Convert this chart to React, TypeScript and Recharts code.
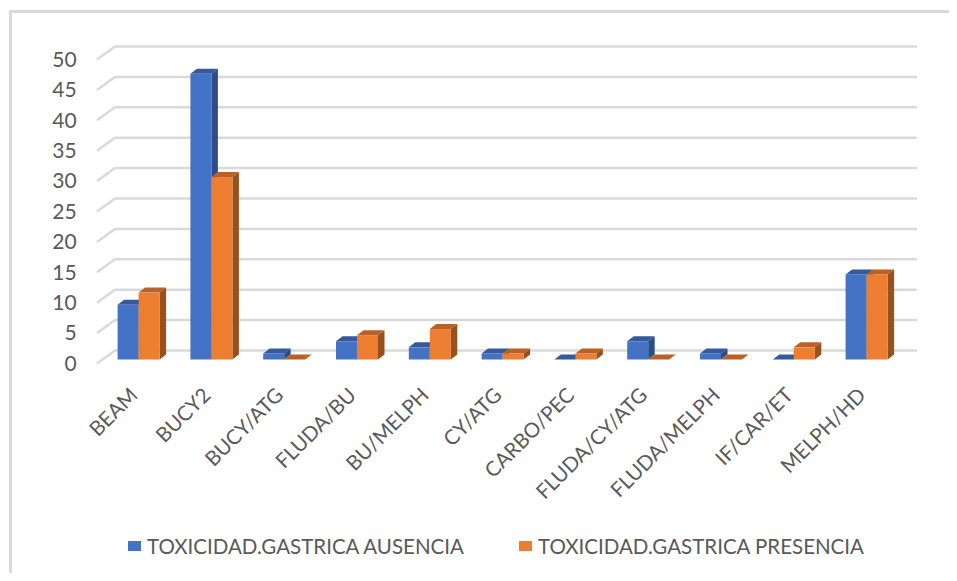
import React from 'react';
import { BarChart, Bar, XAxis, YAxis, CartesianGrid, Legend } from 'recharts';

const categories = ['BEAM', 'BUCY2', 'BUCY/ATG', 'FLUDA/BU', 'BU/MELPH', 'CY/ATG', 'CARBO/PEC', 'FLUDA/CY/ATG', 'FLUDA/MELPH', 'IF/CAR/ET', 'MELPH/HD'];
const ausencia = [9, 47, 1, 3, 2, 1, 0, 3, 1, 0, 14];
const presencia = [11, 30, 0, 4, 5, 1, 1, 0, 0, 2, 14];
const yTicks = [0, 5, 10, 15, 20, 25, 30, 35, 40, 45, 50];

const data = categories.map((name, i) => ({
  name,
  ausencia: ausencia[i],
  presencia: presencia[i],
}));

const FONT = 'Lato, "Open Sans", sans-serif';
const DEPTH_X = 6.5;
const DEPTH_Y = 5;

// front face, lit top and shaded side of a column
const Column3D = (props: any) => {
  const { x, y, width, height, front, top, side } = props;
  const r = x + width;
  const b = y + height;
  return (
    <g>
      <polygon points={`${x},${y} ${x + DEPTH_X},${y - DEPTH_Y} ${r + DEPTH_X},${y - DEPTH_Y} ${r},${y}`} fill={top} />
      {height > 0 && (
        <>
          <polygon points={`${r},${y} ${r + DEPTH_X},${y - DEPTH_Y} ${r + DEPTH_X},${b - DEPTH_Y} ${r},${b}`} fill={side} />
          <rect x={x} y={y} width={width} height={height} fill={front} />
        </>
      )}
    </g>
  );
};

// gridline on the back wall plus the slanted bit on the side wall
const WallLine = (props: any) => {
  const { y1 } = props;
  const backY = y1 - 9;
  return (
    <polyline
      key={`wall-${y1}`}
      points={`97,${y1 + 4} 115,${backY} 917,${backY}`}
      fill="none"
      stroke="#d9d9d9"
      strokeWidth={2.5}
    />
  );
};

const ValueTick = ({ x, y, payload }: any) => (
  <text x={x} y={y + 4} dy="0.35em" textAnchor="end" fontFamily={FONT} fontSize={21} fill="#595959">
    {payload.value}
  </text>
);

const CategoryTick = ({ x, y, payload }: any) => {
  const ty = y + 13;
  return (
    <text
      x={x}
      y={ty}
      textAnchor="end"
      transform={`rotate(-45, ${x}, ${ty})`}
      fontFamily={FONT}
      fontSize={20.5}
      fill="#595959"
    >
      {payload.value}
    </text>
  );
};

const LegendRow = ({ payload }: any) => (
  <div style={{ position: 'relative', height: 24 }}>
    {payload.map((item: any, i: number) => (
      <div
        key={item.value}
        style={{
          position: 'absolute',
          left: i === 0 ? 128 : 519,
          top: 0,
          display: 'flex',
          alignItems: 'center',
          whiteSpace: 'nowrap',
          fontFamily: FONT,
          fontSize: 20.5,
          lineHeight: '24px',
          color: '#595959',
        }}
      >
        <span style={{ width: 13, height: 10, background: item.color, marginRight: 6 }} />
        {item.value}
      </div>
    ))}
  </div>
);

export default function App() {
  return (
    <div style={{ position: 'relative', width: 957, height: 581, margin: -8, background: '#fff', overflow: 'hidden' }}>
      {/* frame shows only on the top and left */}
      <div
        style={{
          position: 'absolute',
          left: 9,
          top: 10,
          width: 960,
          height: 600,
          border: '3px solid #d9d9d9',
        }}
      />
      <BarChart
        width={957}
        height={581}
        data={data}
        barSize={21}
        barGap={0}
        margin={{ top: 55.5, right: 53.6, left: 42.6, bottom: 167.5 }}
        style={{ position: 'absolute', left: 0, top: 0 }}
      >
        <CartesianGrid vertical={false} horizontal={WallLine} />
        <XAxis
          dataKey="name"
          axisLine={false}
          tickLine={false}
          interval={0}
          tickMargin={18}
          tick={<CategoryTick />}
        />
        <YAxis
          width={60}
          domain={[0, 50]}
          ticks={yTicks}
          axisLine={false}
          tickLine={false}
          tickMargin={20}
          tick={<ValueTick />}
        />
        <Legend
          verticalAlign="bottom"
          content={<LegendRow />}
          wrapperStyle={{ left: 0, top: 534, width: 957 }}
        />
        <Bar
          dataKey="ausencia"
          name="TOXICIDAD.GASTRICA AUSENCIA"
          fill="#4472c4"
          isAnimationActive={false}
          shape={<Column3D front="#4472c4" top="#35599b" side="#2c4d87" />}
        />
        <Bar
          dataKey="presencia"
          name="TOXICIDAD.GASTRICA PRESENCIA"
          fill="#ed7d31"
          isAnimationActive={false}
          shape={<Column3D front="#ed7d31" top="#b96126" side="#98501d" />}
        />
      </BarChart>
    </div>
  );
}
